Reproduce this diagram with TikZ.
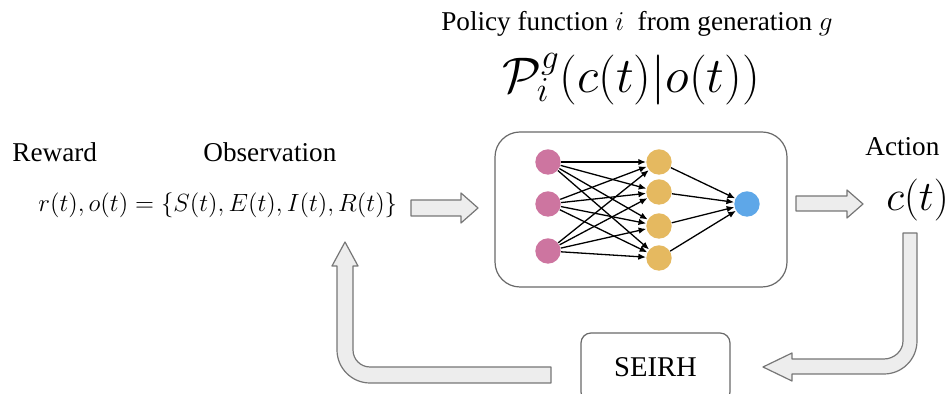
\RequirePackage{fix-cm}
\documentclass[tikz,border=0pt]{standalone}
\usepackage[no-math]{fontspec}
\setmainfont{Liberation Serif}
\usetikzlibrary{arrows.meta}
\definecolor{inpink}{RGB}{205,117,160}
\definecolor{hidyellow}{RGB}{229,185,96}
\definecolor{outblue}{RGB}{94,167,232}
\definecolor{arrowfill}{RGB}{237,237,237}
\definecolor{arrowline}{RGB}{118,118,118}
\definecolor{boxgray}{RGB}{105,105,105}
\begin{document}
\begin{tikzpicture}[x=0.5pt,y=-0.5pt,
  txt/.style={font=\fontsize{13.6}{16}\selectfont,inner sep=0pt},
  neuron/.style={circle,minimum size=12.7pt,inner sep=0pt},
  wire/.style={-{Latex[length=3.8pt,width=3.2pt]},line width=0.65pt},
  fatarrow/.style={fill=arrowfill,draw=arrowline,line width=0.6pt,line join=round}]
  % Coordinates are pixels of the sketch, y grows downward.
  \useasboundingbox (0,0) rectangle (949,394);
  \node[txt,anchor=base west] (reward) at (12,162) {Reward};
  \node[txt,anchor=base west] (obslabel) at (203,162) {Observation};
  \node[font=\fontsize{12.45}{15}\selectfont,inner sep=0pt,anchor=base west] (obs) at (38,212) {$r(t),o(t)=\{S(t),E(t),I(t),R(t)\}$};
  \node[txt,anchor=base] (title) at (637,31) {Policy function $i$ \ from generation $g$};
  \node[font=\fontsize{25}{30}\selectfont,inner sep=0pt,anchor=base] (policy) at (631,93) {$\mathcal{P}_i^g(c(t)|o(t))$};
  \node[txt,anchor=base west] (action) at (865,156) {Action};
  \node[font=\fontsize{21}{25}\selectfont,inner sep=0pt,anchor=base west] (ct) at (886,211) {$c(t)$};
  % policy network
  \node[draw=boxgray,rounded corners=12.5pt,line width=0.6pt,minimum width=146pt,minimum height=77.5pt] (net) at (641,209.5) {};
  \foreach \i/\y in {1/162,2/204,3/251}{\node[neuron,fill=inpink] (in\i) at (548,\y) {};}
  \foreach \j/\y in {1/162,2/192,3/226,4/258}{\node[neuron,fill=hidyellow] (hid\j) at (659,\y) {};}
  \node[neuron,fill=outblue] (out) at (747,204) {};
  \foreach \i in {1,2,3}{\foreach \j in {1,...,4}{\draw[wire] (in\i) -- (hid\j);}}
  \foreach \j in {1,...,4}{\draw[wire] (hid\j) -- (out);}
  % environment
  \node[draw=boxgray,rounded corners=5pt,line width=0.6pt,minimum width=74.5pt,minimum height=34.5pt,font=\fontsize{14.3}{17}\selectfont] (env) at (655.5,367.5) {SEIRH};
  % block arrows
  \draw[fatarrow] (411,200) -- (461,200) -- (461,193) -- (478,208) -- (461,223) -- (461,216) -- (411,216) -- cycle;
  \draw[fatarrow] (796,196) -- (847,196) -- (847,190) -- (863,204) -- (847,218) -- (847,211) -- (796,211) -- cycle;
  \draw[fatarrow] (903,233) -- (917,233) -- (917,341) .. controls (917,359.2) and (902.2,374) .. (884,374)
    -- (792,374) -- (792,381) -- (763,367) -- (792,353) -- (792,359) -- (884,359)
    .. controls (894,359) and (903,351) .. (903,341) -- cycle;
  \draw[fatarrow] (345,242) -- (358,266) -- (353,266) -- (353,350) .. controls (353,359.4) and (360.6,367) .. (370,367)
    -- (551,367) -- (551,383) -- (370,383) .. controls (351.8,383) and (337,368.2) .. (337,350)
    -- (337,266) -- (332,266) -- cycle;
\end{tikzpicture}
\end{document}
